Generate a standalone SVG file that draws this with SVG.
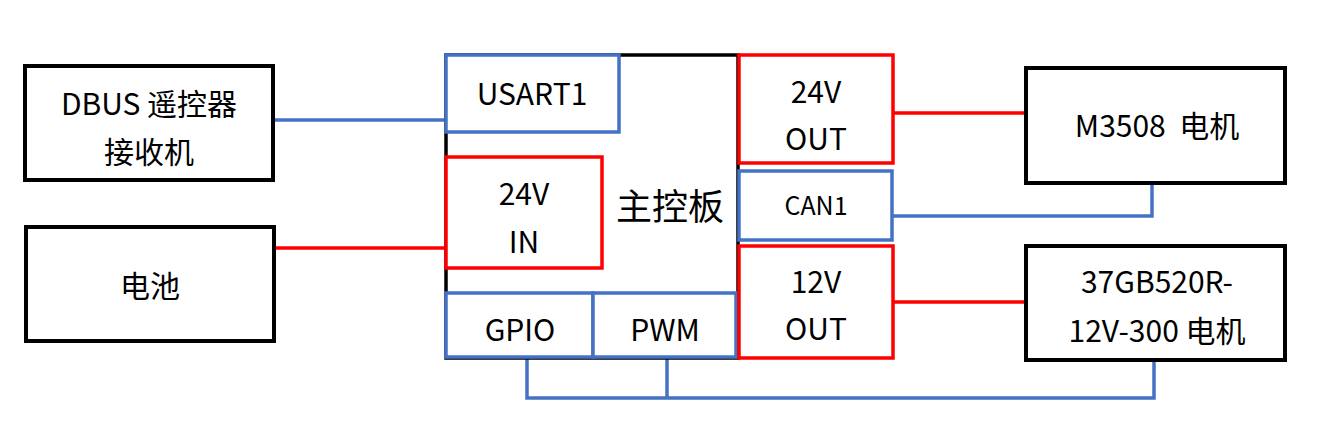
<svg xmlns="http://www.w3.org/2000/svg" width="1323" height="434" viewBox="0 0 1323 434">
<style>
.bk{fill:#fff;stroke:#000;stroke-width:4}
.bl{fill:#fff;stroke:#4472C4;stroke-width:3.5}
.rd{fill:#fff;stroke:#FF0000;stroke-width:3.5}
.wb{fill:none;stroke:#4472C4;stroke-width:3.5}
.wr{fill:none;stroke:#FF0000;stroke-width:3.5}
text{font-family:"Noto Sans CJK SC","Noto Sans",sans-serif;font-size:30px;fill:#000;text-anchor:middle}
</style>
<rect width="1323" height="434" fill="#fff"/>
<g id="connectors">
<line class="wb" x1="275" y1="120" x2="446" y2="120"/>
<line class="wr" x1="275" y1="248" x2="446" y2="248"/>
<line class="wr" x1="894" y1="113" x2="1025" y2="113"/>
<polyline class="wb" points="893,216 1152,216 1152,185"/>
<line class="wr" x1="894" y1="302" x2="1025" y2="302"/>
<polyline class="wb" points="527,358 527,398 1154,398 1154,362"/>
<line class="wb" x1="667" y1="358" x2="667" y2="398"/>
</g>
<g id="dbus">
<rect class="bk" x="25" y="66" width="248" height="114"/>
<text x="149" y="115">DBUS 遥控器</text>
<text x="149" y="163">接收机</text>
</g>
<g id="battery">
<rect class="bk" x="26" y="227" width="248" height="114"/>
<text x="150" y="297">电池</text>
</g>
<g id="mainboard">
<rect x="446" y="55" width="292" height="303" fill="#fff" stroke="#000" stroke-width="3.5"/>
<text x="670" y="220" style="font-size:36px">主控板</text>
</g>
<g id="usart1">
<rect class="bl" x="446" y="55" width="173" height="77"/>
<text x="532" y="105">USART1</text>
</g>
<g id="in24">
<rect class="rd" x="446" y="157" width="156" height="111"/>
<text x="524" y="205">24V</text>
<text x="524" y="253">IN</text>
</g>
<g id="gpio">
<rect class="bl" x="446" y="293" width="147" height="64"/>
<text x="520" y="341">GPIO</text>
</g>
<g id="pwm">
<rect class="bl" x="593" y="293" width="143" height="64"/>
<text x="665" y="341">PWM</text>
</g>
<g id="out24">
<rect class="rd" x="739" y="55" width="154" height="108"/>
<text x="816" y="103">24V</text>
<text x="816" y="150">OUT</text>
</g>
<g id="can1">
<rect class="bl" x="739" y="171" width="153" height="69"/>
<text x="816" y="215" style="font-size:25px">CAN1</text>
</g>
<g id="out12">
<rect class="rd" x="739" y="246" width="154" height="112"/>
<text x="816" y="293">12V</text>
<text x="816" y="340">OUT</text>
</g>
<g id="m3508">
<rect class="bk" x="1026" y="68" width="259" height="115"/>
<text x="1157" y="137" xml:space="preserve">M3508  电机</text>
</g>
<g id="gb37">
<rect class="bk" x="1026" y="246" width="259" height="114"/>
<text x="1157" y="293">37GB520R-</text>
<text x="1157" y="342">12V-300 电机</text>
</g>
</svg>
